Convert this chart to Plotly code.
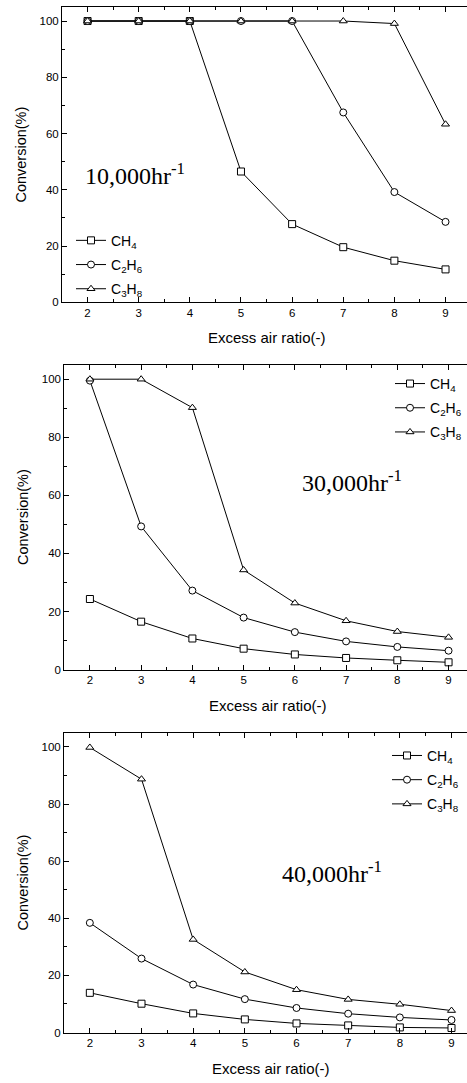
import plotly.graph_objects as go

ratio = [2, 3, 4, 5, 6, 7, 8, 9]

# 10,000 hr-1
ch4_10k = [100, 100, 100, 46.5, 27.8, 19.6, 14.8, 11.7]
c2h6_10k = [100, 100, 100, 100, 100, 67.5, 39.2, 28.6]
c3h8_10k = [100, 100, 100, 100, 100, 100, 99.1, 63.3]

# 30,000 hr-1
ch4_30k = [24.3, 16.5, 10.7, 7.2, 5.2, 4.0, 3.2, 2.5]
c2h6_30k = [99.5, 49.3, 27.2, 17.9, 12.9, 9.7, 7.8, 6.5]
c3h8_30k = [100, 100, 90.2, 34.3, 22.9, 16.8, 13.1, 11.1]

# 40,000 hr-1
ch4_40k = [13.9, 10.1, 6.7, 4.6, 3.2, 2.5, 1.8, 1.6]
c2h6_40k = [38.4, 25.9, 16.8, 11.7, 8.6, 6.6, 5.3, 4.4]
c3h8_40k = [99.8, 88.7, 32.6, 21.2, 15.0, 11.6, 9.9, 7.7]

series_names = ["CH<sub>4</sub>", "C<sub>2</sub>H<sub>6</sub>", "C<sub>3</sub>H<sub>8</sub>"]
symbols = ["square", "circle", "triangle-up"]
panel_labels = ["10,000hr<sup>-1</sup>", "30,000hr<sup>-1</sup>", "40,000hr<sup>-1</sup>"]
x_title = "Excess air ratio(-)"
y_title = "Conversion(%)"
panels = [
    [ch4_10k, c2h6_10k, c3h8_10k],
    [ch4_30k, c2h6_30k, c3h8_30k],
    [ch4_40k, c2h6_40k, c3h8_40k],
]

W, H = 467, 1083
# (left px, top px, bottom px, x range max)
geom = [
    (62, 7, 304, 9.42),
    (64.3, 366.7, 673.3, 9.36),
    (64, 736.7, 1038.3, 9.30),
]
label_pos = [(2.93, 45.5), (7.12, 64.8), (6.69, 56.2)]
legend_pos = [(71, 226), (390, 370), (387, 744)]
xtitle_pos = [(267, 339), (268, 709), (271, 1074)]

fig = go.Figure()
sans = "Liberation Sans, Arial, sans-serif"

for p, data in enumerate(panels):
    xa = "x" if p == 0 else f"x{p+1}"
    ya = "y" if p == 0 else f"y{p+1}"
    lg = "legend" if p == 0 else f"legend{p+1}"
    for s, vals in enumerate(data):
        fig.add_trace(go.Scatter(
            x=ratio, y=vals, mode="lines+markers", name=series_names[s],
            xaxis=xa, yaxis=ya, legend=lg, legendgroup=f"p{p}s{s}",
            line=dict(color="black", width=1),
            marker=dict(symbol=symbols[s], size=7, color="white",
                        line=dict(color="black", width=1)),
        ))
    left, top, bottom, xmax = geom[p]
    axsuffix = "" if p == 0 else str(p + 1)
    fig.layout["xaxis" + axsuffix] = dict(
        domain=[left / W, 1], range=[1.5, xmax], anchor=ya,
        tick0=2, dtick=1, ticks="inside", ticklen=5, tickcolor="black",
        minor=dict(ticks="inside", ticklen=3, dtick=0.5, tick0=2, tickcolor="black"),
        showline=True, linecolor="black", linewidth=1, mirror="ticks",
        showgrid=False, zeroline=False,
        tickfont=dict(family=sans, size=11.5, color="black"),
    )
    fig.layout["yaxis" + axsuffix] = dict(
        domain=[(H - bottom) / H, (H - top) / H], range=[0, 105], anchor=xa,
        tick0=0, dtick=20, ticks="inside", ticklen=5, tickcolor="black",
        minor=dict(ticks="inside", ticklen=3, dtick=10, tickcolor="black"),
        showline=True, linecolor="black", linewidth=1,
        showgrid=False, zeroline=False,
        tickfont=dict(family=sans, size=11.5, color="black"),
        title=dict(text=y_title, standoff=9,
                   font=dict(family=sans, size=14.5, color="black")),
    )
    lx, ly = legend_pos[p]
    fig.layout[lg] = dict(
        x=lx / W, y=(H - ly) / H, xanchor="left", yanchor="top",
        bgcolor="rgba(0,0,0,0)", borderwidth=0,
        font=dict(family=sans, size=14, color="black"),
        tracegroupgap=3,
    )
    fig.add_annotation(
        x=label_pos[p][0], y=label_pos[p][1], xref=xa, yref=ya,
        text=panel_labels[p], showarrow=False, xanchor="center", yanchor="middle",
        font=dict(family="Liberation Serif, Times New Roman, serif", size=24, color="black"),
    )
    tx, ty = xtitle_pos[p]
    fig.add_annotation(
        x=tx / W, y=(H - ty) / H, xref="paper", yref="paper",
        text=x_title, showarrow=False, xanchor="center", yanchor="middle",
        font=dict(family=sans, size=15, color="black"),
    )

fig.update_layout(
    width=W, height=H, margin=dict(l=0, r=0, t=0, b=0),
    paper_bgcolor="white", plot_bgcolor="white",
    showlegend=True,
)

fig.write_html("out.html")
